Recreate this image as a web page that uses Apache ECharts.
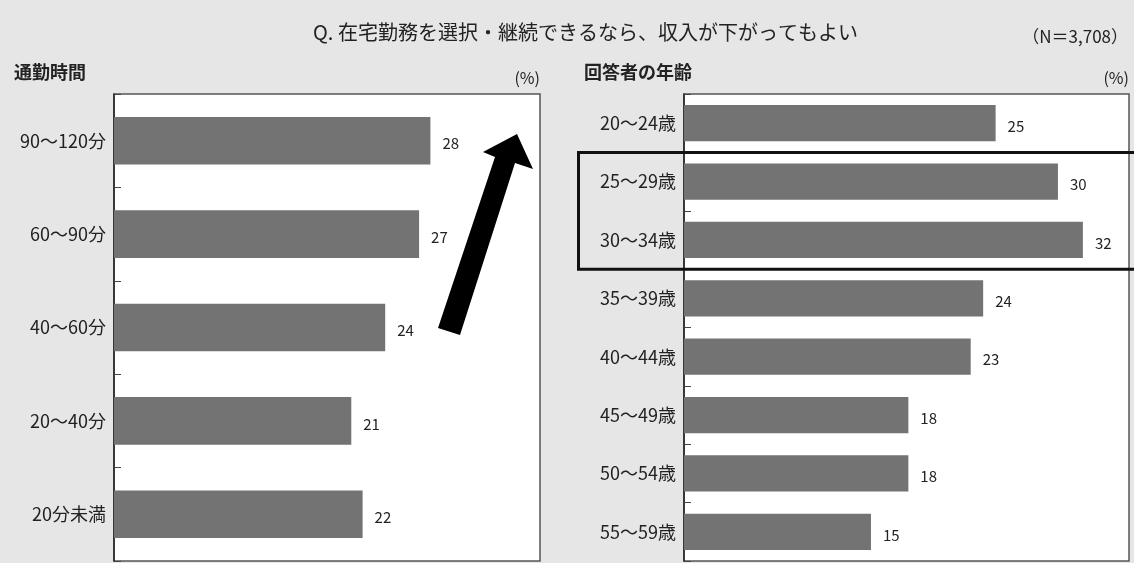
<!DOCTYPE html>
<html>
<head>
<meta charset="utf-8">
<script src="https://cdn.jsdelivr.net/npm/echarts@6/dist/echarts.min.js"></script>
<style>
  html, body { margin: 0; padding: 0; background: #e6e6e6; }
  #chart { width: 1134px; height: 563px; }
</style>
</head>
<body>
<div id="chart"></div>
<script>
// Commute time vs. share who would accept lower income to keep remote work (%)
const commuteCategories = ['90～120分', '60～90分', '40～60分', '20～40分', '20分未満'];
const commuteValues = [28, 27, 24, 21, 22];

// Respondent age groups (%)
const ageCategories = ['20～24歳', '25～29歳', '30～34歳', '35～39歳', '40～44歳', '45～49歳', '50～54歳', '55～59歳'];
const ageValues = [25, 30, 32, 24, 23, 18, 18, 15];

// Age groups framed by the emphasis box
const highlightedAges = ['25～29歳', '30～34歳'];

const FONT = '"Noto Sans CJK JP", "Noto Sans", sans-serif';
const BAR = '#737373';

const chart = echarts.init(document.getElementById('chart'), null, { renderer: 'canvas' });

function categoryAxis(gridIndex, data) {
  return {
    type: 'category',
    gridIndex,
    data,
    inverse: true,
    axisLine: { show: true, lineStyle: { color: '#222', width: 1.5 } },
    axisTick: { show: true, inside: true, length: 7, lineStyle: { color: '#444' } },
    axisLabel: { color: '#222', fontSize: 18, fontFamily: FONT, margin: 8 },
    splitLine: { show: false }
  };
}

function valueAxis(gridIndex, max) {
  return { type: 'value', gridIndex, min: 0, max, show: false, splitLine: { show: false } };
}

function barSeries(idx, data, gap) {
  return {
    type: 'bar',
    xAxisIndex: idx,
    yAxisIndex: idx,
    data,
    barCategoryGap: gap,
    itemStyle: { color: BAR },
    label: {
      show: true,
      position: 'right',
      distance: 12,
      offset: [0, 3],
      color: '#222',
      fontSize: 15,
      fontFamily: FONT
    },
    silent: true,
    animation: false
  };
}

const textStyle = (size, weight) => ({ color: '#222', fontSize: size, fontWeight: weight || 'normal', fontFamily: FONT });

chart.setOption({
  backgroundColor: '#e6e6e6',
  animation: false,
  title: [
    { text: 'Q. 在宅勤務を選択・継続できるなら、収入が下がってもよい', left: 313, top: 22, padding: 0, textStyle: textStyle(20) },
    { text: '（N＝3,708）', right: 6, top: 28, padding: 0, textStyle: textStyle(17) },
    { text: '通勤時間', left: 14, top: 63, padding: 0, textStyle: textStyle(18, 'bold') },
    { text: '回答者の年齢', left: 584, top: 63, padding: 0, textStyle: textStyle(18, 'bold') },
    { text: '(%)', right: 594, top: 70, padding: 0, textStyle: textStyle(16) },
    { text: '(%)', right: 5, top: 70, padding: 0, textStyle: textStyle(16) }
  ],
  grid: [
    { left: 114, top: 94, width: 426, height: 467, show: true, backgroundColor: '#fff', borderColor: '#555', borderWidth: 1.5 },
    { left: 684, top: 94, width: 445, height: 467, show: true, backgroundColor: '#fff', borderColor: '#555', borderWidth: 1.5 }
  ],
  xAxis: [valueAxis(0, 37.7), valueAxis(1, 35.7)],
  yAxis: [categoryAxis(0, commuteCategories), categoryAxis(1, ageCategories)],
  series: [barSeries(0, commuteValues, '49%'), barSeries(1, ageValues, '38%')]
});

// Upward arrow beside the commute panel and frame around the highlighted age rows
function drawAnnotations() {
  const y1 = chart.convertToPixel({ yAxisIndex: 1 }, highlightedAges[0]);
  const y2 = chart.convertToPixel({ yAxisIndex: 1 }, highlightedAges[highlightedAges.length - 1]);
  const band = 467 / ageCategories.length;
  const top = y1 - band / 2;
  const bottom = y2 + band / 2;
  chart.setOption({
    graphic: [
      {
        type: 'polygon',
        silent: true,
        z: 100,
        shape: {
          points: [[438, 328], [495, 157], [483, 152], [517, 134], [533, 169], [515, 163], [460, 335]]
        },
        style: { fill: '#000' }
      },
      {
        type: 'rect',
        silent: true,
        z: 100,
        shape: { x: 578.5, y: top, width: 600, height: bottom - top },
        style: { fill: 'none', stroke: '#111', lineWidth: 3 }
      }
    ]
  });
}
drawAnnotations();
</script>
</body>
</html>
